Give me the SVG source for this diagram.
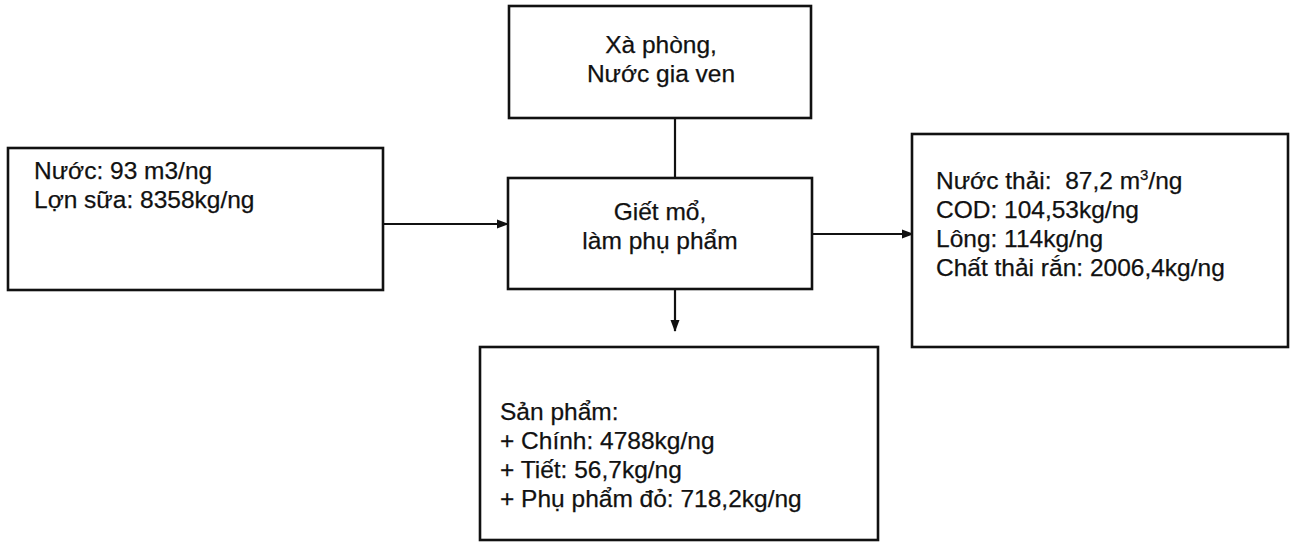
<svg xmlns="http://www.w3.org/2000/svg" width="1294" height="544" viewBox="0 0 1294 544">
<style>
.box{fill:#fff;stroke:#111;stroke-width:2.6}
.t{font-family:"Liberation Sans",Arial,sans-serif;font-size:24.5px;fill:#111;stroke:#111;stroke-width:0.25}
.c{text-anchor:middle}
.ln{stroke:#111;stroke-width:2.2;fill:none}
</style>
<defs>
<marker id="ah" markerWidth="12" markerHeight="12" refX="11" refY="6" orient="auto" markerUnits="userSpaceOnUse">
<path d="M0,1.5 L12,6 L0,10.5 Z" fill="#111"/>
</marker>
</defs>
<rect width="1294" height="544" fill="#fff"/>
<g id="connectors">
<line class="ln" x1="675" y1="118" x2="675" y2="178"/>
<line class="ln" x1="383" y1="224" x2="508" y2="224" marker-end="url(#ah)"/>
<line class="ln" x1="812" y1="234" x2="913" y2="234" marker-end="url(#ah)"/>
<line class="ln" x1="675" y1="289" x2="675" y2="331" marker-end="url(#ah)"/>
</g>
<g id="node-top">
<rect class="box" x="509" y="6" width="302" height="112"/>
<text class="t c" x="661" y="53">Xà phòng,</text>
<text class="t c" x="661" y="82">Nước gia ven</text>
</g>
<g id="node-input">
<rect class="box" x="8" y="148" width="375" height="142"/>
<text class="t" x="34" y="179">Nước: 93 m3/ng</text>
<text class="t" x="34" y="208">Lợn sữa: 8358kg/ng</text>
</g>
<g id="node-process">
<rect class="box" x="508" y="178" width="304" height="111"/>
<text class="t c" x="660" y="220">Giết mổ,</text>
<text class="t c" x="660" y="249">làm phụ phẩm</text>
</g>
<g id="node-waste">
<rect class="box" x="912" y="134" width="376" height="213"/>
<text class="t" x="936" y="189">Nước thải:&#160; 87,2 m<tspan dy="-9" font-size="15">3</tspan><tspan dy="9">/ng</tspan></text>
<text class="t" x="936" y="218">COD: 104,53kg/ng</text>
<text class="t" x="936" y="247">Lông: 114kg/ng</text>
<text class="t" x="936" y="276">Chất thải rắn: 2006,4kg/ng</text>
</g>
<g id="node-product">
<rect class="box" x="480" y="347" width="398" height="193"/>
<text class="t" x="500" y="420">Sản phẩm:</text>
<text class="t" x="500" y="449">+ Chính: 4788kg/ng</text>
<text class="t" x="500" y="478">+ Tiết: 56,7kg/ng</text>
<text class="t" x="500" y="507">+ Phụ phẩm đỏ: 718,2kg/ng</text>
</g>
</svg>
